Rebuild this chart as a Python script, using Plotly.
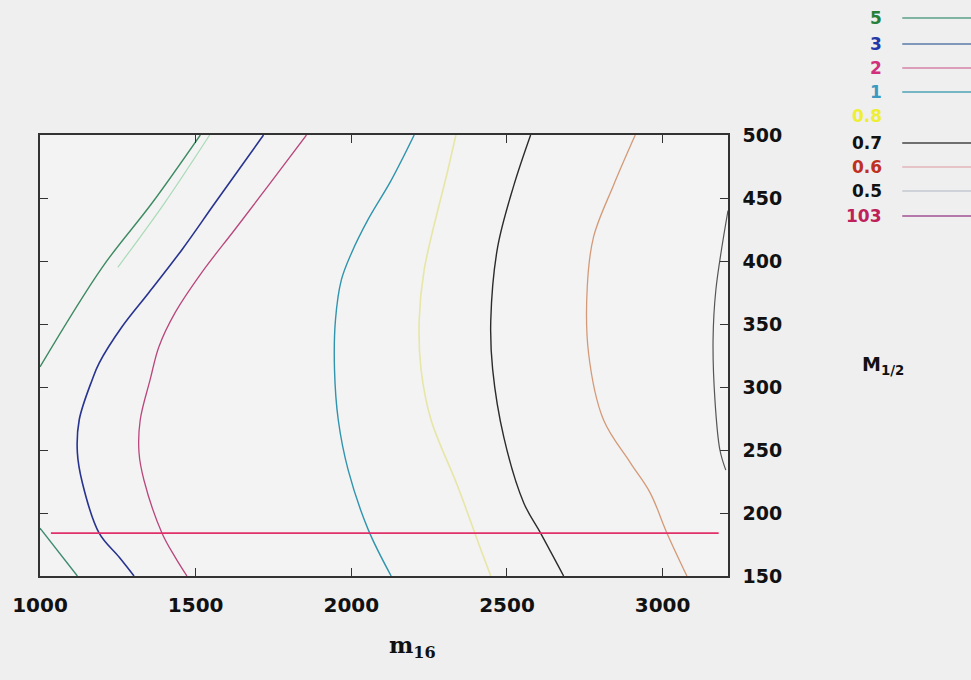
import plotly.graph_objects as go

# ---------------- data ----------------
legend_labels = ["5", "3", "2", "1", "0.8", "0.7", "0.6", "0.5", "103"]

c5_x = [1000, 1200, 1360, 1515]
c5_y = [316, 395, 446, 500]
c5b_x = [1250, 1400, 1545]
c5b_y = [395, 446, 500]
c5c_x = [1000, 1120]
c5c_y = [188, 150]

c3_x = [1718, 1562, 1456, 1350, 1264, 1190, 1168, 1126, 1120, 1136, 1190, 1254, 1302]
c3_y = [500, 446, 409, 375, 348, 319, 306, 274, 248, 224, 184, 165, 150]

c2_x = [1856, 1734, 1626, 1520, 1434, 1382, 1354, 1322, 1318, 1334, 1392, 1434, 1472]
c2_y = [500, 460, 425, 391, 359, 332, 306, 274, 248, 226, 184, 165, 150]

c1_x = [2202, 2128, 2054, 2000, 1968, 1949, 1946, 1958, 1990, 2054, 2128]
c1_y = [500, 464, 433, 406, 385, 353, 314, 274, 234, 187, 150]

c08_x = [2336, 2310, 2234, 2218, 2224, 2256, 2342, 2416, 2448]
c08_y = [500, 472, 393, 353, 314, 274, 221, 171, 150]

c07_x = [2576, 2522, 2470, 2448, 2454, 2490, 2554, 2608, 2682]
c07_y = [500, 460, 411, 353, 314, 260, 208, 184, 150]

c06_x = [2912, 2842, 2778, 2758, 2762, 2810, 2896, 2960, 3014, 3078]
c06_y = [500, 460, 419, 380, 327, 274, 240, 216, 184, 150]

c05_x = [3210, 3171, 3162, 3168, 3184, 3203]
c05_y = [440, 377, 337, 290, 250, 234]

c103_x = [1035, 3180]
c103_y = [184, 184]

x_ticks = [1000, 1500, 2000, 2500, 3000]
y_ticks = [150, 200, 250, 300, 350, 400, 450, 500]

# ---------------- styles ----------------
curves = [
    (c5_x, c5_y, "#3d8a62", 1.4),
    (c5b_x, c5b_y, "#a9dbb8", 1.2),
    (c5c_x, c5c_y, "#3d8a70", 1.4),
    (c3_x, c3_y, "#27338f", 1.6),
    (c2_x, c2_y, "#b8467c", 1.3),
    (c1_x, c1_y, "#2f94ad", 1.4),
    (c08_x, c08_y, "#e7e6a6", 1.6),
    (c07_x, c07_y, "#2b2b2b", 1.4),
    (c06_x, c06_y, "#d49a78", 1.3),
    (c05_x, c05_y, "#555555", 1.2),
    (c103_x, c103_y, "#e0306a", 1.6),
]

label_colors = ["#26803a", "#2238a8", "#d0307c", "#3a9ac0", "#eeee33",
                "#111111", "#c03020", "#111111", "#c0205a"]
key_colors = ["#5aa08a", "#5a7aa8", "#d383a6", "#4ea2b4", "rgba(0,0,0,0)",
              "#444444", "#e2b4b8", "#c4cad2", "#a25094"]
key_py = [18, 44, 68, 92, 116, 143, 167, 191, 216]

fig = go.Figure()
for xs, ys, col, w in curves:
    fig.add_trace(go.Scatter(x=xs, y=ys, mode="lines", line=dict(color=col, width=w),
                             line_shape="spline", showlegend=False, hoverinfo="skip"))

# plot area in pixels
L, R, T, B = 37, 728, 135, 576
W, H = 971, 680

def px2paper(px, py):
    return (px - L) / (R - L), (B - py) / (B - T)

annotations = []
shapes = []
for lab, lc, kc, py in zip(legend_labels, label_colors, key_colors, key_py):
    xp, yp = px2paper(885, py)
    annotations.append(dict(x=xp, y=yp, xref="paper", yref="paper", text=lab,
                            showarrow=False, xanchor="right", yanchor="middle",
                            font=dict(family="DejaVu Sans", size=17, color=lc, weight="bold")))
    x0, y0 = px2paper(903, py)
    x1, _ = px2paper(975, py)
    shapes.append(dict(type="line", xref="paper", yref="paper", x0=x0, x1=x1, y0=y0, y1=y0,
                       line=dict(color=kc, width=1.3)))

xa, ya = px2paper(861, 365)
annotations.append(dict(x=xa, y=ya, xref="paper", yref="paper",
                        text="M<sub>1/2</sub>", showarrow=False, xanchor="left", yanchor="middle",
                        font=dict(family="DejaVu Sans", size=19, color="#111111", weight="bold")))
xa, ya = px2paper(386, 646)
annotations.append(dict(x=xa, y=ya, xref="paper", yref="paper",
                        text="m<sub>16</sub>", showarrow=False, xanchor="left", yanchor="middle",
                        font=dict(family="DejaVu Serif", size=23, color="#111111", weight="bold")))

fig.update_layout(
    width=W, height=H,
    margin=dict(l=L, r=W - R, t=T, b=H - B),
    paper_bgcolor="#efefef",
    plot_bgcolor="#f3f3f3",
    showlegend=False,
    annotations=annotations,
    shapes=shapes,
    xaxis=dict(range=[1000, 3210], tickvals=x_ticks, ticks="inside", ticklen=8,
               tickcolor="#333333", showline=True, linecolor="#333333", linewidth=1.5,
               mirror="ticks", showgrid=False, zeroline=False, ticklabelstandoff=10,
               tickfont=dict(family="DejaVu Sans", size=20, color="#111111", weight="bold")),
    yaxis=dict(range=[150, 500], tickvals=y_ticks, side="right", ticks="inside", ticklen=8,
               tickcolor="#333333", showline=True, linecolor="#333333", linewidth=1.5,
               mirror="ticks", showgrid=False, zeroline=False, ticklabelstandoff=9,
               tickfont=dict(family="DejaVu Sans", size=19, color="#111111", weight="bold")),
)

fig.write_html("out.html")
